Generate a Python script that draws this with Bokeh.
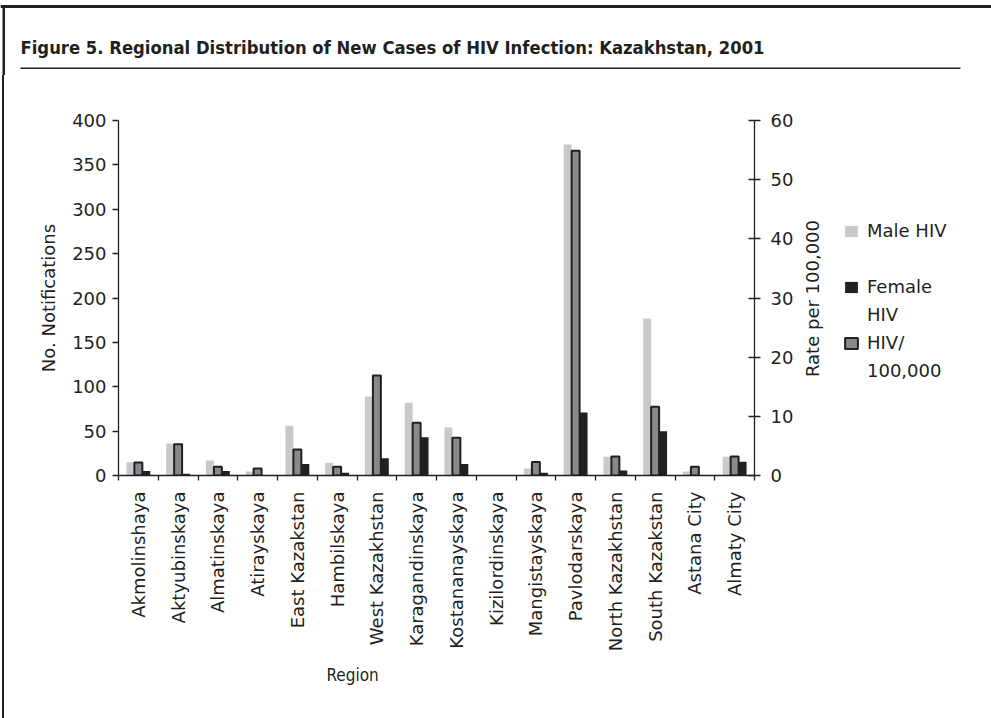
from bokeh.plotting import figure
from bokeh.layouts import column, row
from bokeh.models import (Range1d, LinearAxis, FixedTicker, Label, BoxAnnotation,
                          Legend, LegendItem, Title, Div)
from bokeh.embed import file_html
from bokeh.resources import INLINE
import numpy as np

regions = ["Akmolinshaya", "Aktyubinskaya", "Almatinskaya", "Atirayskaya",
           "East Kazakstan", "Hambilskaya", "West Kazakhstan", "Karagandinskaya",
           "Kostananayskaya", "Kizilordinskaya", "Mangistayskaya", "Pavlodarskaya",
           "North Kazakhstan", "South Kazakstan", "Astana City", "Almaty City"]
male_hiv = [15, 36, 17, 4.5, 56, 14.5, 89, 82, 54, 0, 8, 373, 21, 177, 4.5, 21]
female_hiv = [5, 2, 5, 0, 13, 3, 19.5, 43, 13, 0, 3, 71, 5.5, 50, 0, 15.5]
hiv_rate = [2.2, 5.3, 1.5, 1.2, 4.4, 1.5, 16.9, 8.9, 6.4, 0, 2.3, 54.9, 3.2, 11.6, 1.5, 3.2]
count_ticks = [0, 50, 100, 150, 200, 250, 300, 350, 400]
rate_ticks = [0, 10, 20, 30, 40, 50, 60]
title_text = "Figure 5. Regional Distribution of New Cases of HIV Infection: Kazakhstan, 2001"

INK = "#231f20"
MALE_C = "#c9c9cb"
RATE_C = "#88898c"
FONT = "DejaVu Sans"
NARROW = "'Liberation Sans Narrow', 'DejaVu Sans Condensed', sans-serif"
n = len(regions)
centers = np.arange(n) + 0.5
bw = 0.2

HEAD_H = 75
MAIN_H = 718 - HEAD_H
FRAME_TOP = 120 - HEAD_H
FRAME_BOTTOM = 718 - 475
STRIP_W = 5
MAIN_W = 802 - STRIP_W
SIDE_X = STRIP_W + MAIN_W          # page x where the side panel starts

def bare_fig(w, h, top=0, bottom=0):
    f = figure(width=w, height=h, output_backend="svg", toolbar_location=None,
               x_range=Range1d(0, 1), y_range=Range1d(0, 1),
               x_axis_location=None, y_axis_location=None,
               min_border_left=0, min_border_right=0,
               min_border_top=top, min_border_bottom=bottom)
    f.outline_line_color = None
    f.xgrid.visible = False
    f.ygrid.visible = False
    return f

def box(f, l=None, r=None, b=None, t=None):
    f.add_layout(BoxAnnotation(left=l, right=r, bottom=b, top=t,
                               left_units="screen", right_units="screen",
                               top_units="screen", bottom_units="screen",
                               fill_color=INK, fill_alpha=1, line_color=None))

# ---- header: page border, title, rule ----
header = bare_fig(991, HEAD_H)
box(header, 0, 991, HEAD_H - 7.5, HEAD_H - 4.5)      # top border
box(header, 2, 4.5, 0, HEAD_H - 4.5)                 # left border
box(header, 20, 960, HEAD_H - 68.5, HEAD_H - 67)     # title rule
header.add_layout(Label(text=title_text, x=20, y=HEAD_H - 47, x_units="screen",
                        y_units="screen", text_font=NARROW, text_font_size="18.3px",
                        text_font_style="bold", text_color=INK,
                        text_baseline="alphabetic", text_align="left"))

# ---- left border strip ----
strip = Div(text="", width=STRIP_W, height=MAIN_H, margin=0,
            styles={"background": "linear-gradient(to right, #ffffff 0px, #ffffff 2px, "
                                  "#231f20 2px, #231f20 4.5px, #ffffff 4.5px)"})

# ---- main chart ----
p = figure(width=MAIN_W, height=MAIN_H, output_backend="svg", toolbar_location=None,
           x_range=Range1d(0, n), y_range=Range1d(0, count_ticks[-1]),
           min_border_left=118 - STRIP_W, min_border_right=SIDE_X - 754,
           min_border_top=FRAME_TOP, min_border_bottom=FRAME_BOTTOM)
p.extra_y_ranges = {"rate": Range1d(0, rate_ticks[-1])}
p.outline_line_color = None
p.xgrid.visible = False
p.ygrid.visible = False

r_male = p.vbar(x=centers - bw, top=male_hiv, width=bw, fill_color=MALE_C, line_color=None)
r_fem = p.vbar(x=centers + bw, top=female_hiv, width=bw, fill_color=INK, line_color=None)
rate_outline = [INK if v > 0 else "rgba(0,0,0,0)" for v in hiv_rate]
r_rate = p.vbar(x=centers, top=hiv_rate, width=bw, y_range_name="rate",
                fill_color=RATE_C, line_color=rate_outline, line_width=2)

def style_axis(ax):
    ax.axis_line_color = INK
    ax.axis_line_width = 1.3
    ax.major_tick_line_color = INK
    ax.major_tick_line_width = 1.3
    ax.minor_tick_line_color = None
    ax.major_label_text_font = FONT
    ax.major_label_text_font_size = "18px"
    ax.major_label_text_color = INK
    ax.axis_label_text_font = FONT
    ax.axis_label_text_font_size = "18px"
    ax.axis_label_text_font_style = "normal"
    ax.axis_label_text_color = INK

ly = p.yaxis[0]
ly.ticker = FixedTicker(ticks=count_ticks)
style_axis(ly)
ly.major_tick_in = 0
ly.major_tick_out = 6
ly.major_label_standoff = 6
ly.axis_label = "No. Notifications"
ly.axis_label_standoff = 10

ry = LinearAxis(y_range_name="rate", ticker=FixedTicker(ticks=rate_ticks))
style_axis(ry)
ry.major_tick_in = 6
ry.major_tick_out = 6
ry.major_label_standoff = 10
p.add_layout(ry, "right")

xa = p.xaxis[0]
xa.ticker = FixedTicker(ticks=list(centers), minor_ticks=list(range(n + 1)))
style_axis(xa)
xa.major_tick_line_color = None
xa.minor_tick_line_color = INK
xa.minor_tick_line_width = 1.3
xa.minor_tick_in = 0
xa.minor_tick_out = 5
xa.major_label_overrides = {float(c): name for c, name in zip(centers, regions)}
xa.major_label_orientation = np.pi / 2
xa.major_label_standoff = 10

p.add_layout(Title(text="Region", align="left", offset=208, standoff=16,
                   text_font=NARROW, text_font_size="17px", text_font_style="normal",
                   text_color=INK), "below")

# ---- side panel: right axis title and legend ----
SIDE_W = 991 - SIDE_X
lf = bare_fig(SIDE_W, MAIN_H, top=FRAME_TOP, bottom=FRAME_BOTTOM)
lf.x_range = Range1d(n + 1, n + 2)
lf.y_range = Range1d(0, count_ticks[-1])
g_male = lf.vbar(x=centers, top=male_hiv, width=bw, fill_color=MALE_C, line_color=None)
g_fem = lf.vbar(x=centers, top=female_hiv, width=bw, fill_color=INK, line_color=None)
g_rate = lf.vbar(x=centers, top=hiv_rate, width=bw, fill_color=RATE_C,
                 line_color=INK, line_width=2)
g_blank = lf.vbar(x=centers, top=hiv_rate, width=bw, fill_color=None, line_color=None)
for g in (g_male, g_fem, g_rate, g_blank):
    g.visible = False      # only their legend swatches are wanted here
legend = Legend(items=[LegendItem(label="Male HIV", renderers=[g_male]),
                       LegendItem(label=" ", renderers=[g_blank]),
                       LegendItem(label="Female", renderers=[g_fem]),
                       LegendItem(label="HIV", renderers=[g_blank]),
                       LegendItem(label="HIV/", renderers=[g_rate]),
                       LegendItem(label="100,000", renderers=[g_blank])],
                location=(843 - SIDE_X, 94), padding=0, spacing=7, margin=0,
                glyph_width=16, glyph_height=14, label_height=21, label_standoff=8,
                label_text_font=FONT, label_text_font_size="18px",
                label_text_color=INK, border_line_color=None,
                background_fill_color=None, click_policy="none")
lf.add_layout(legend)
lf.add_layout(Label(text="Rate per 100,000", x=812 - SIDE_X, y=475 - 298,
                    x_units="screen", y_units="screen", angle=np.pi / 2,
                    text_font=FONT, text_font_size="18px", text_color=INK,
                    text_align="center", text_baseline="middle"))

layout = column(header, row(strip, p, lf, spacing=0), spacing=0)
open("out.html", "w").write(file_html(layout, INLINE))
